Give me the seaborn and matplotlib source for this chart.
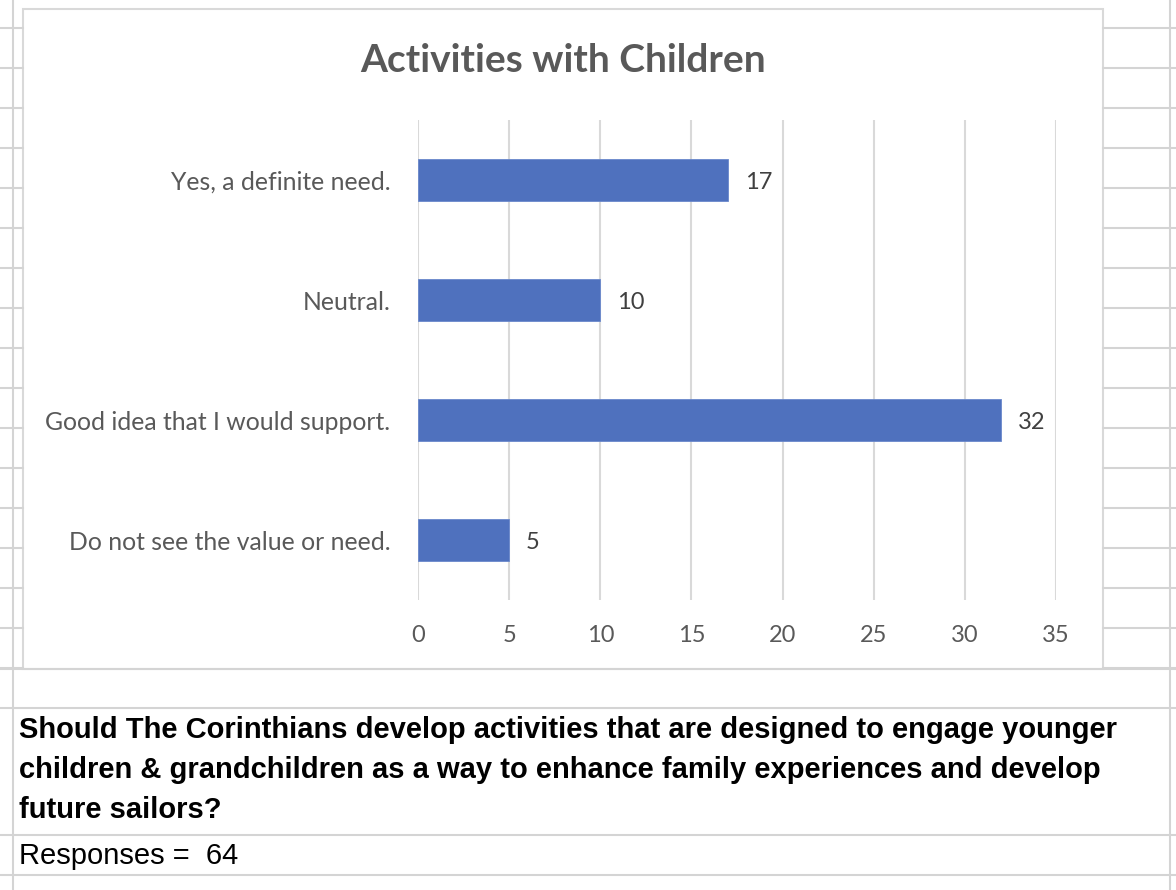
import matplotlib
matplotlib.use("Agg")
import matplotlib.pyplot as plt
import seaborn as sns
import pandas as pd

# chart data
categories = ["Yes, a definite need.", "Neutral.", "Good idea that I would support.", "Do not see the value or need."]
counts = [17, 10, 32, 5]
x_ticks = [0, 5, 10, 15, 20, 25, 30, 35]

title = "Activities with Children"
question_lines = ["Should The Corinthians develop activities that are designed to engage younger",
                  "children & grandchildren as a way to enhance family experiences and develop",
                  "future sailors?"]
responses_text = "Responses =  64"

df = pd.DataFrame({"Answer": categories, "Count": counts})

W, H = 1176, 890
sns.set_theme(style="white")
plt.rcParams['font.family'] = ['Lato', 'DejaVu Sans']

fig = plt.figure(figsize=(W / 100, H / 100), dpi=100)

# background sheet in pixel coords
bg = fig.add_axes([0, 0, 1, 1])
bg.set_xlim(0, W)
bg.set_ylim(H, 0)
bg.axis("off")
grid_c = "#d4d4d4"
lw = 1.5

# spreadsheet grid
bg.plot([13, 13], [0, H], color=grid_c, lw=lw)
bg.plot([1170, 1170], [0, H], color=grid_c, lw=lw)
for y in range(28, 669, 40):
    bg.plot([0, 23], [y, y], color=grid_c, lw=lw)
    bg.plot([1103, W], [y, y], color=grid_c, lw=lw)
for y in [669, 708, 835, 875]:
    bg.plot([0, W], [y, y], color=grid_c, lw=lw)

# chart box
bg.add_patch(plt.Rectangle((23, 9), 1080, 660, facecolor="white", edgecolor="#d9d9d9", lw=1.5))
bg.text(563, 60, title, ha="center", va="center", fontsize=28, fontweight="bold", color="#595959")

# question text
for i, line in enumerate(question_lines):
    bg.text(19, 730 + 40 * i, line, ha="left", va="center", fontsize=21, fontweight="bold",
            color="black", family=["Liberation Sans", "DejaVu Sans"])
bg.text(19, 856, responses_text, ha="left", va="center", fontsize=21,
        color="black", family=["Liberation Sans", "DejaVu Sans"])

# bar chart
ax = fig.add_axes([418 / W, (H - 600) / H, 638 / W, 480 / H])
sns.barplot(data=df, x="Count", y="Answer", orient="h", color="#4F71BE", width=0.35,
            saturation=1, ax=ax, edgecolor="#6a88cc", linewidth=0.6)
ax.set_xlim(0, 35)
ax.set_ylim(3.5, -0.5)
ax.set_xticks(x_ticks)
ax.grid(axis="x", color="#d9d9d9", lw=1.5)
ax.set_axisbelow(True)
for s in ax.spines.values():
    s.set_visible(False)
ax.set_xlabel("")
ax.set_ylabel("")
ax.tick_params(axis="x", labelsize=17, colors="#595959", length=0, pad=18)
ax.tick_params(axis="y", labelsize=17.8, colors="#595959", length=0, pad=20)
ax.patch.set_alpha(0)

for i, v in enumerate(counts):
    ax.annotate(str(v), (v, i), xytext=(12, -2), textcoords="offset points",
                ha="left", va="center", fontsize=17, color="#404040")

fig.savefig("out.png", dpi=100)
